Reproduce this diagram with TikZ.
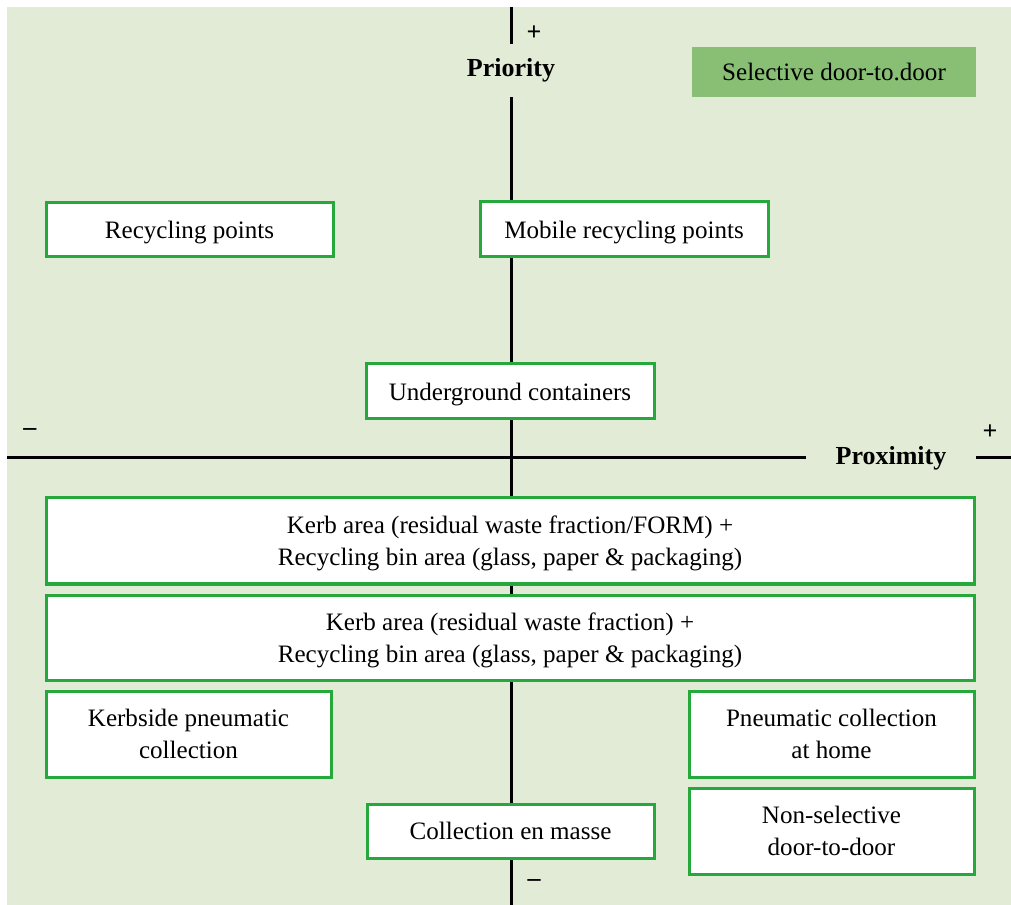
\documentclass[tikz,border=0pt]{standalone}
\usepackage{fontspec}
\setmainfont{Liberation Serif}
\definecolor{bgc}{HTML}{E2EBD6}
\definecolor{selc}{HTML}{88BF74}
\definecolor{brd}{HTML}{25A83C}
\begin{document}
\begin{tikzpicture}[x=0.75pt,y=-0.75pt,
  txt/.style={font=\fontsize{18.8}{24}\selectfont, text=black, text depth=0pt},
  box/.style={txt, draw=brd, line width=2.25pt, fill=white, align=center, inner sep=0pt},
  axis/.style={line width=2.25pt, black},
  axlabel/.style={font=\bfseries\fontsize{19.5}{24}\selectfont, inner sep=0pt},
  sign/.style={font=\bfseries\fontsize{19.5}{24}\selectfont, inner sep=0pt}]
\useasboundingbox (0,0) rectangle (1011,905);
\fill[bgc] (7,7) rectangle (1011,905);
% axes
\coordinate (vtop) at (511,7);
\coordinate (vbot) at (511,905);
\coordinate (hleft) at (7,458);
\coordinate (hright) at (1011,458);
\node[axlabel, minimum height=39.75pt] (prio) at (511,70.5) {Priority};
\node[axlabel, minimum width=127.5pt, minimum height=20pt] (prox) at (891,458) {Proximity};
\draw[axis] (vtop) -- (prio.north);
\draw[axis] (prio.south) -- (vbot);
\draw[axis] (hleft) -- (prox.west);
\draw[axis] (prox.east) -- (hright);
\node[sign] (pplus) at (534,33) {+};
\node[sign] (pminus) at (534,883) {–};
\node[sign] (xminus) at (30,432) {–};
\node[sign] (xplus) at (990,432) {+};
% boxes
\node[txt, fill=selc, minimum width=213pt, minimum height=37.5pt, inner sep=0pt] (sel) at (834,72) {Selective door-to.door};
\node[box, minimum width=215.25pt, minimum height=40.5pt] (recyc) at (189.5,230) {Recycling points};
\node[box, minimum width=216pt, minimum height=41.25pt] (mobile) at (624,229.5) {Mobile recycling points};
\node[box, minimum width=216pt, minimum height=41.25pt] (under) at (510,391.5) {Underground containers};
\node[box, minimum width=696pt, minimum height=64.5pt] (kerb1) at (510,541) {Kerb area (residual waste fraction/FORM) +\\Recycling bin area (glass, paper \& packaging)};
\node[box, minimum width=696pt, minimum height=63.75pt] (kerb2) at (510,637.5) {Kerb area (residual waste fraction) +\\Recycling bin area (glass, paper \& packaging)};
\node[box, minimum width=213.75pt, minimum height=64.5pt] (kerbside) at (188.5,734) {Kerbside pneumatic\\collection};
\node[box, minimum width=213.75pt, minimum height=64.5pt] (home) at (831.5,734) {Pneumatic collection\\at home};
\node[box, minimum width=215.25pt, minimum height=40.5pt] (masse) at (510.5,831) {Collection en masse};
\node[box, minimum width=213.75pt, minimum height=64.5pt] (nonsel) at (831.5,831) {Non-selective\\door-to-door};
\end{tikzpicture}
\end{document}
